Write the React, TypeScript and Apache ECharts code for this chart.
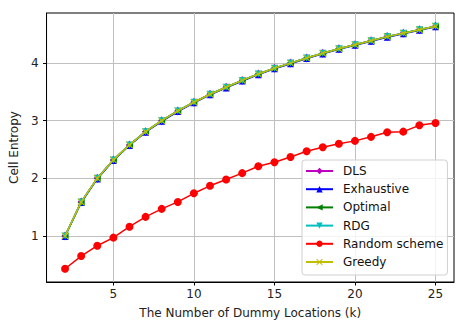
import React, { useEffect, useRef } from "react";
import * as echarts from "echarts";

const kValues = [2, 3, 4, 5, 6, 7, 8, 9, 10, 11, 12, 13, 14, 15, 16, 17, 18, 19, 20, 21, 22, 23, 24, 25];
const dlsValues = [1.0, 1.59, 2.0, 2.32, 2.58, 2.81, 3.0, 3.17, 3.32, 3.46, 3.58, 3.7, 3.81, 3.91, 4.0, 4.09, 4.17, 4.25, 4.32, 4.39, 4.46, 4.52, 4.58, 4.64];
const exhaustiveValues = [0.99, 1.58, 1.99, 2.31, 2.57, 2.8, 2.99, 3.16, 3.31, 3.45, 3.57, 3.69, 3.8, 3.9, 3.99, 4.08, 4.16, 4.24, 4.31, 4.38, 4.45, 4.51, 4.57, 4.63];
const optimalValues = [1.0, 1.58, 2.0, 2.32, 2.58, 2.81, 3.0, 3.17, 3.32, 3.46, 3.58, 3.7, 3.81, 3.91, 4.0, 4.09, 4.17, 4.25, 4.32, 4.39, 4.46, 4.52, 4.58, 4.64];
const rdgValues = [1.0, 1.59, 2.0, 2.32, 2.58, 2.81, 3.0, 3.17, 3.32, 3.46, 3.58, 3.7, 3.81, 3.91, 4.0, 4.09, 4.17, 4.25, 4.32, 4.39, 4.46, 4.52, 4.58, 4.64];
const randomValues = [0.43, 0.65, 0.83, 0.97, 1.16, 1.33, 1.47, 1.59, 1.74, 1.87, 1.98, 2.09, 2.21, 2.28, 2.37, 2.47, 2.54, 2.6, 2.65, 2.72, 2.8, 2.81, 2.92, 2.96];
const greedyValues = [1.0, 1.59, 2.0, 2.32, 2.58, 2.81, 3.0, 3.17, 3.32, 3.46, 3.58, 3.7, 3.81, 3.91, 4.0, 4.09, 4.17, 4.25, 4.32, 4.39, 4.46, 4.52, 4.58, 4.64];
const seriesNames = ["DLS", "Exhaustive", "Optimal", "RDG", "Random scheme", "Greedy"];
const xTicks = [5, 10, 15, 20, 25];
const yTicks = [1, 2, 3, 4];

const FONT = "DejaVu Sans";

export default function App() {
  const ref = useRef<HTMLDivElement>(null);
  useEffect(() => {
    if (!ref.current) return;
    const chart = echarts.init(ref.current, null, { renderer: "svg" });
    const pair = (vals: number[]) => kValues.map((k, i) => [k, vals[i]]);
    const colors = ["#bf00bf", "#0000ff", "#008000", "#00bfbf", "#ff0000", "#bfbf00"];
    const symbols = [
      "diamond",
      "path://M0,10 L5,0 L10,10 Z",
      "path://M0,5 L10,0 L10,10 Z",
      "path://M0,0 L10,0 L5,10 Z",
      "circle",
      "path://M0,1 L1,0 L5,4 L9,0 L10,1 L6,5 L10,9 L9,10 L5,6 L1,10 L0,9 L4,5 Z",
    ];
    const sizes: any[] = [[7, 9], 7, 7, 7, 8, 7];
    const data = [dlsValues, exhaustiveValues, optimalValues, rdgValues, randomValues, greedyValues];
    chart.setOption({
      animation: false,
      grid: {
        left: 42,
        right: 11,
        top: 13,
        bottom: 45,
        show: true,
        borderColor: "#000",
        borderWidth: 1,
        backgroundColor: "#fff",
      },
      legend: {
        orient: "vertical",
        left: 302,
        top: 160,
        itemWidth: 27,
        itemHeight: 8,
        itemGap: 6.2,
        padding: [5, 4, 7, 3],
        backgroundColor: "rgba(255,255,255,0.8)",
        borderColor: "#d0d0d0",
        borderWidth: 1,
        borderRadius: 3,
        textStyle: { fontFamily: FONT, fontSize: 12, lineHeight: 12, color: "#111", padding: [0, 0, 0, 5] },
        data: seriesNames,
      },
      xAxis: {
        type: "value",
        min: 0.85,
        max: 26.15,
        name: "The Number of Dummy Locations (k)",
        nameLocation: "middle",
        nameGap: 25,
        nameTextStyle: { fontFamily: FONT, fontSize: 12, color: "#222" },
        axisLine: { onZero: false, lineStyle: { color: "#000", width: 1 } },
        axisTick: { show: true, length: 3.5, inside: false, customValues: xTicks, lineStyle: { color: "#000" } },
        axisLabel: { customValues: xTicks, fontFamily: FONT, fontSize: 12, color: "#222", margin: 6 },
        splitLine: { show: true, lineStyle: { color: "#c0c0c0", width: 1 } },
      },
      yAxis: {
        type: "value",
        min: 0.2,
        max: 4.87,
        name: "Cell Entropy",
        nameLocation: "middle",
        nameGap: 24,
        nameTextStyle: { fontFamily: FONT, fontSize: 12, color: "#222" },
        axisLine: { onZero: false, lineStyle: { color: "#000", width: 1 } },
        axisTick: { show: true, length: 3.5, inside: false, customValues: yTicks, lineStyle: { color: "#000" } },
        axisLabel: { customValues: yTicks, fontFamily: FONT, fontSize: 12, color: "#222", margin: 8 },
        splitLine: { show: true, lineStyle: { color: "#c0c0c0", width: 1 } },
      },
      series: seriesNames.map((name, i) => ({
        name,
        type: "line",
        data: pair(data[i]),
        symbol: symbols[i],
        symbolSize: sizes[i],
        showAllSymbol: true,
        lineStyle: { color: colors[i], width: 1.5 },
        itemStyle: { color: colors[i] },
        z: 2 + i,
        emphasis: { disabled: true },
      })),
    });
    return () => chart.dispose();
  }, []);
  return <div ref={ref} style={{ width: 465, height: 327, position: "absolute", left: 0, top: 0 }} />;
}
